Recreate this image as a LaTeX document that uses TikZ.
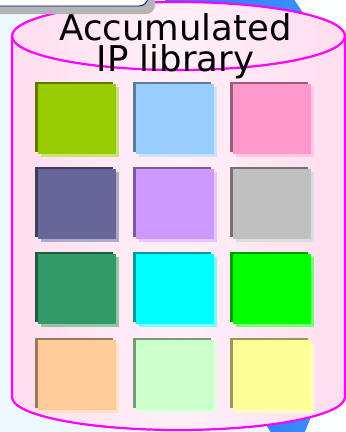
\documentclass[tikz,border=0pt]{standalone}
\usepackage{fontspec}
\newfontfamily\labfont{DejaVu Sans}
\definecolor{bgblue}{HTML}{EEF8FF}
\definecolor{cylpink}{HTML}{FFDDEE}
\definecolor{cylmid}{HTML}{FFF0F8}
\definecolor{cylline}{HTML}{FF00FF}
\definecolor{bluea}{HTML}{2F7BFF}
\definecolor{blueb}{HTML}{3A90FF}
\definecolor{navyline}{HTML}{000080}
\definecolor{shadowgray}{HTML}{B4B4B4}
\definecolor{cA}{HTML}{99CC00}
\definecolor{cB}{HTML}{99CCFF}
\definecolor{cC}{HTML}{FF99CC}
\definecolor{cD}{HTML}{666699}
\definecolor{cE}{HTML}{CC99FF}
\definecolor{cF}{HTML}{C0C0C0}
\definecolor{cG}{HTML}{339966}
\definecolor{cH}{HTML}{00FFFF}
\definecolor{cI}{HTML}{00FF00}
\definecolor{cJ}{HTML}{FFCC99}
\definecolor{cK}{HTML}{CCFFCC}
\definecolor{cL}{HTML}{FFFF99}
\tikzset{
  cylline/.style={draw=cylline, line width=2.2pt},
  lab/.style={font=\labfont\fontsize{35.5}{30.5}\selectfont, text=black, align=center, inner sep=0pt},
}
\newcommand{\tile}[3]{%
  \fill[#3!55!white] (#1+3,#2+3) rectangle (#1+81,#2+73);
  \fill[#3!60!black] (#1-3,#2-2) rectangle (#1+75,#2+68);
  \fill[#3] (#1,#2) rectangle (#1+78,#2+70);
}
\begin{document}
\begin{tikzpicture}[x=1pt,y=-1pt]
\useasboundingbox (0,0) rectangle (346,432);
\clip (0,0) rectangle (346,432);
% background
\shade[left color=bgblue, right color=white] (0,0) rectangle (346,432);
\fill[bgblue] (0,0) rectangle (300,432);
% blue shapes behind
\shade[left color=bluea, right color=blueb] (165,-2) -- (293,-2) -- (308,20) -- (165,20) -- cycle;
\shade[left color=bluea, right color=blueb] (250,400) -- (318,400) -- (304,434) -- (272,434) -- cycle;
% cylinder body
\shade[left color=cylpink, right color=cylpink, middle color=cylmid]
  (12,36) -- (12,397) arc[start angle=180, end angle=360, x radius=166.5pt, y radius=33pt]
  -- (345,36) -- cycle;
\shade[left color=cylpink, right color=cylpink, middle color=cylmid]
  (178.5,36) ellipse[x radius=166.5pt, y radius=34pt];
\draw[cylline] (12,36) -- (12,397) arc[start angle=180, end angle=360, x radius=166.5pt, y radius=33pt] -- (345,36);
\draw[cylline] (178.5,36) ellipse[x radius=166.5pt, y radius=34pt];
% title
\node[lab, anchor=north] (title) at (175.5,13.5) {Accumulated\\IP library};
% tiles
\tile{38}{84}{cA}
\tile{136}{84}{cB}
\tile{233}{84}{cC}
\tile{38}{169}{cD}
\tile{136}{169}{cE}
\tile{233}{169}{cF}
\tile{38}{254}{cG}
\tile{136}{254}{cH}
\tile{233}{254}{cI}
\tile{38}{340}{cJ}
\tile{136}{340}{cK}
\tile{233}{340}{cL}
% top-left box with shadow
\fill[shadowgray, rounded corners=9pt] (-20,-20) rectangle (155,14);
\draw[navyline, fill=white, line width=0.8pt, rounded corners=9pt] (-20,-20) rectangle (148,6);
\end{tikzpicture}
\end{document}
